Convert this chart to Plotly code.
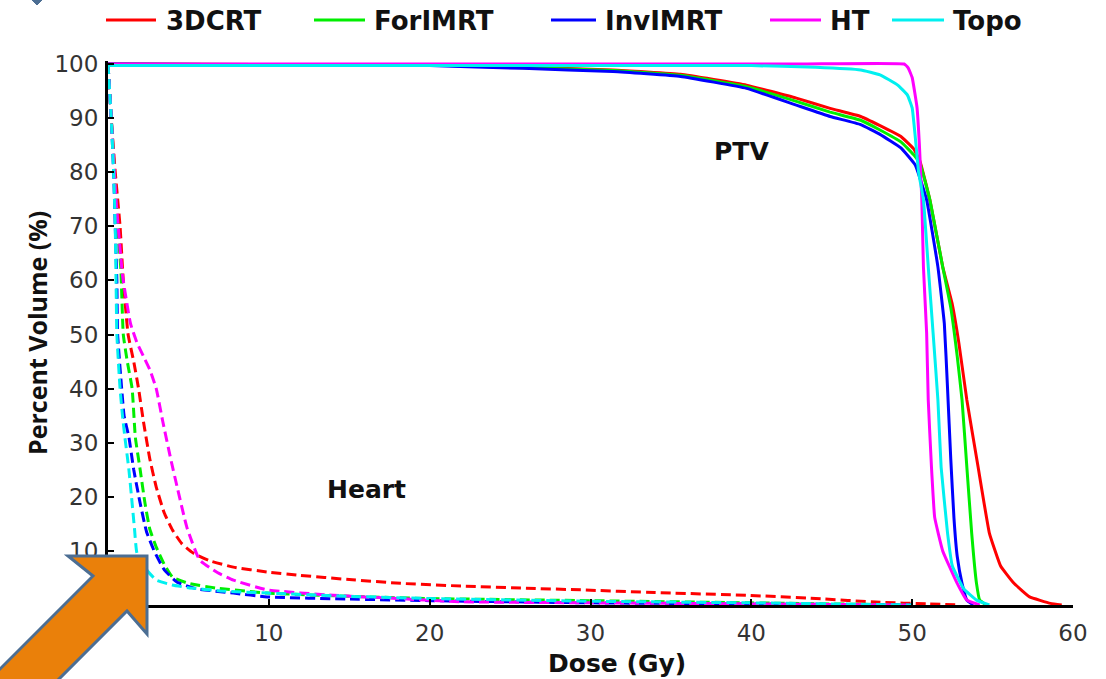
import plotly.graph_objects as go

# ---------------- data ----------------
series_names = ["3DCRT", "ForIMRT", "InvIMRT", "HT", "Topo"]
series_colors = ["#ff0000", "#00ee00", "#0000ff", "#ff00ff", "#00f0f0"]

# PTV (solid)
ptv_3dcrt_dose = [0, 20, 25.8, 31.4, 35.6, 39.7, 42.8, 44.9, 46.8, 48.0, 49.3, 50.1, 50.5, 51.1, 51.9, 52.5, 52.9, 53.4, 54.1, 54.8, 55.5, 56.3, 57.3, 58.6, 59.3]
ptv_3dcrt_vol = [100, 99.8, 99.4, 98.9, 98.1, 96.1, 93.7, 91.8, 90.3, 88.6, 86.6, 84.3, 81.9, 74.9, 62.5, 55.5, 48.5, 37.9, 25.5, 13.3, 7.2, 4.1, 1.5, 0.3, 0]

ptv_forimrt_dose = [0, 20, 25.8, 31.4, 35.6, 39.7, 42.8, 44.9, 46.8, 48.0, 49.3, 50.1, 50.5, 51.1, 51.9, 52.4, 52.8, 53.1, 53.4, 53.7, 54.0, 54.2, 54.6]
ptv_forimrt_vol = [100, 99.8, 99.3, 98.8, 97.9, 95.8, 93.1, 91.1, 89.6, 87.8, 85.6, 83.2, 81.5, 74.9, 62.5, 55, 46, 37.9, 25.5, 13.3, 4, 0.9, 0]

ptv_invimrt_dose = [0, 20, 25.8, 31.4, 35.6, 39.7, 42.8, 44.9, 46.8, 48.0, 49.3, 50.2, 50.9, 51.6, 52.0, 52.2, 52.4, 52.6, 52.8, 53.1, 53.4, 53.8]
ptv_invimrt_vol = [100, 99.7, 99.2, 98.6, 97.7, 95.5, 92.4, 90.3, 88.8, 87.0, 84.5, 81.3, 74.9, 62.5, 52, 40, 27, 16, 9, 4, 0.9, 0]

ptv_ht_dose = [0, 43, 49.5, 49.75, 50.0, 50.3, 50.45, 50.6, 50.7, 50.9, 51.0, 51.2, 51.4, 51.9, 52.8, 53.4, 54.2]
ptv_ht_vol = [100, 100, 100, 99.3, 97.5, 92, 85, 74.9, 62.5, 50.3, 37.9, 25.5, 16.2, 10, 4, 0.9, 0]

ptv_topo_dose = [0, 40, 44, 46.8, 48.0, 49.1, 49.7, 50.0, 50.2, 50.4, 50.7, 51.0, 51.3, 51.6, 51.8, 52.2, 52.5, 53.2, 54.0, 54.8]
ptv_topo_vol = [99.7, 99.7, 99.4, 98.9, 98.0, 96.1, 94.3, 91.9, 86.3, 80, 74.9, 62.5, 50.3, 37.9, 25.5, 13.3, 7.2, 3, 0.9, 0]

# Heart (dashed)
heart_3dcrt_dose = [0, 0.2, 0.45, 0.75, 0.95, 1.25, 1.6, 1.9, 2.2, 2.6, 3.0, 3.5, 4.0, 4.6, 5.3, 6.3, 7.8, 9.9, 11.9, 15, 18.2, 22, 26, 29.4, 34, 39.7, 44, 48, 51, 53]
heart_3dcrt_vol = [100, 90, 80, 70, 60, 50, 45, 40, 34, 27, 21.8, 17, 13.9, 11.3, 9.6, 8.2, 7, 6.1, 5.5, 4.7, 4.0, 3.5, 3.1, 2.8, 2.3, 1.8, 1.2, 0.5, 0.2, 0]

heart_forimrt_dose = [0, 0.2, 0.4, 0.6, 0.8, 0.95, 1.2, 1.5, 1.7, 2.0, 2.3, 2.6, 3.0, 3.5, 4.0, 5.0, 6.8, 9.9, 15, 20, 30, 40, 50]
heart_forimrt_vol = [100, 90, 80, 70, 62, 50, 45, 40, 31, 25, 18.8, 14, 10.7, 7.5, 5.2, 4, 3.1, 2.2, 1.6, 1.2, 0.8, 0.4, 0]

heart_invimrt_dose = [0, 0.2, 0.35, 0.45, 0.55, 0.6, 0.85, 1.0, 1.3, 1.6, 2.0, 2.4, 2.9, 3.5, 4.3, 5.5, 7.8, 9.9, 15, 20, 30, 40, 50]
heart_invimrt_vol = [100, 90, 80, 70, 60, 50, 40, 35, 31, 25, 18.8, 13.5, 9.8, 6.5, 4.2, 3, 2.2, 1.5, 1.1, 0.8, 0.4, 0.2, 0]

heart_ht_dose = [0, 0.2, 0.5, 0.9, 1.4, 1.8, 2.2, 2.6, 3.0, 3.4, 3.9, 4.3, 4.9, 5.7, 6.8, 7.8, 9.9, 14, 18, 22, 30, 40, 50]
heart_ht_vol = [100, 90, 75, 61, 52, 48.5, 46, 43.5, 40, 34, 27, 21.8, 14.4, 8.3, 6, 4.6, 2.8, 1.8, 1.2, 0.6, 0.4, 0.2, 0]

heart_topo_dose = [0, 0.2, 0.35, 0.45, 0.5, 0.55, 0.75, 0.9, 1.05, 1.3, 1.5, 1.65, 1.8, 2.4, 3.0, 4.0, 5.0, 7, 9.9, 15, 20, 30, 40, 50]
heart_topo_vol = [100, 90, 80, 70, 60, 50, 40, 35, 31, 25, 18.8, 14, 9.6, 6.5, 4.6, 3.7, 3.2, 2.6, 2.2, 1.6, 1.2, 0.7, 0.4, 0]

x_tick_vals = [0, 10, 20, 30, 40, 50, 60]
x_tick_text = ["", "10", "20", "30", "40", "50", "60"]
y_tick_vals = [0, 10, 20, 30, 40, 50, 60, 70, 80, 90, 100]
y_tick_text = ["", "10", "20", "30", "40", "50", "60", "70", "80", "90", "100"]

ptv_doses = [ptv_3dcrt_dose, ptv_forimrt_dose, ptv_invimrt_dose, ptv_ht_dose, ptv_topo_dose]
ptv_vols = [ptv_3dcrt_vol, ptv_forimrt_vol, ptv_invimrt_vol, ptv_ht_vol, ptv_topo_vol]
heart_doses = [heart_3dcrt_dose, heart_forimrt_dose, heart_invimrt_dose, heart_ht_dose, heart_topo_dose]
heart_vols = [heart_3dcrt_vol, heart_forimrt_vol, heart_invimrt_vol, heart_ht_vol, heart_topo_vol]

# ---------------- layout geometry (pixels) ----------------
W, H = 1106, 679
PL, PR, PT, PB = 108, 1073, 61, 605


def fx(p):
    return (p - PL) / (PR - PL)


def fy(p):
    return (PB - p) / (PB - PT)


fig = go.Figure()

for name, col, xs, ys in zip(series_names, series_colors, heart_doses, heart_vols):
    fig.add_trace(go.Scatter(x=xs, y=ys, mode="lines", name=name + " Heart",
                             line=dict(color=col, width=3, dash="10px,5px",
                                       shape="spline", smoothing=0.4),
                             showlegend=False))

for name, col, xs, ys in zip(series_names, series_colors, ptv_doses, ptv_vols):
    fig.add_trace(go.Scatter(x=xs, y=ys, mode="lines", name=name,
                             line=dict(color=col, width=3, shape="spline", smoothing=0.3),
                             showlegend=False))

shapes = []
annotations = []

# manual legend
legend_pos = [(106, 156, 164), (314, 365, 372), (551, 596, 603), (770, 821, 828), (892, 944, 951)]
for (x0, x1, tx), name, col in zip(legend_pos, series_names, series_colors):
    shapes.append(dict(type="line", xref="paper", yref="paper",
                       x0=fx(x0), x1=fx(x1), y0=fy(20), y1=fy(20),
                       line=dict(color=col, width=3)))
    annotations.append(dict(text=name, xref="paper", yref="paper", x=fx(tx), y=fy(21),
                            xanchor="left", yanchor="middle", showarrow=False,
                            font=dict(family="DejaVu Sans", size=26, color="#111", weight="bold")))

# labels inside plot
annotations.append(dict(text="PTV", xref="paper", yref="paper", x=fx(741), y=fy(151),
                        xanchor="center", yanchor="middle", showarrow=False,
                        font=dict(family="DejaVu Sans", size=25, color="#111", weight="bold")))
annotations.append(dict(text="Heart", xref="paper", yref="paper", x=fx(366), y=fy(489),
                        xanchor="center", yanchor="middle", showarrow=False,
                        font=dict(family="DejaVu Sans", size=25, color="#111", weight="bold")))

# axis titles
annotations.append(dict(text="Dose (Gy)", xref="paper", yref="paper", x=fx(617), y=fy(663),
                        xanchor="center", yanchor="middle", showarrow=False,
                        font=dict(family="DejaVu Sans", size=25, color="#111", weight="bold")))
annotations.append(dict(text="Percent Volume (%)", xref="paper", yref="paper", x=fx(37), y=fy(333),
                        xanchor="center", yanchor="middle", showarrow=False, textangle=-90,
                        font=dict(family="Open Sans", size=25, color="#111", weight="bold")))

# decorative arrows
arrow_pts = [(68, 556), (147, 556), (147, 634), (127, 611), (38, 700), (-31, 700), (93, 576)]
path = "M " + " L ".join(f"{fx(a):.5f},{fy(b):.5f}" for a, b in arrow_pts) + " Z"
shapes.append(dict(type="path", xref="paper", yref="paper", path=path,
                   fillcolor="#ea800a", line=dict(color="#4c6e93", width=3), layer="above"))
tri_pts = [(30, -2), (44, -2), (37, 5)]
path2 = "M " + " L ".join(f"{fx(a):.5f},{fy(b):.5f}" for a, b in tri_pts) + " Z"
shapes.append(dict(type="path", xref="paper", yref="paper", path=path2,
                   fillcolor="#4c6e93", line=dict(color="#4c6e93", width=1), layer="above"))

axis_common = dict(showline=True, linecolor="black", linewidth=3, ticks="inside",
                   ticklen=6, tickwidth=2, tickcolor="black", showgrid=False, zeroline=False,
                   tickfont=dict(family="DejaVu Sans", size=23, color="#333"), mirror=False)

fig.update_layout(
    width=W, height=H,
    margin=dict(l=PL, r=W - PR, t=PT, b=H - PB, autoexpand=False),
    paper_bgcolor="white", plot_bgcolor="white",
    xaxis=dict(range=[0, 60], tickvals=x_tick_vals, ticktext=x_tick_text,
               ticklabelstandoff=5, **axis_common),
    yaxis=dict(range=[0, 100 * (PB - PT) / (PB - 64)], tickvals=y_tick_vals, ticktext=y_tick_text,
               ticklabelstandoff=2, **axis_common),
    shapes=shapes, annotations=annotations, showlegend=False,
)

fig.write_html("out.html", config={"displayModeBar": False},
               post_script="document.body.style.margin='0';document.body.style.overflow='hidden';")
